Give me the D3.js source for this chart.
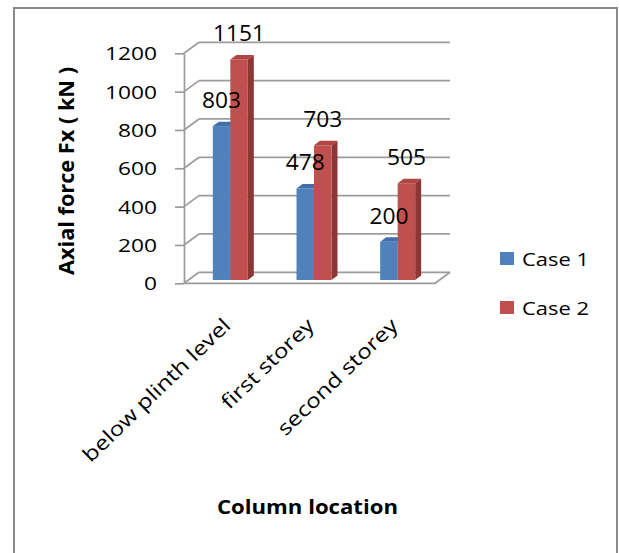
<!DOCTYPE html>
<html>
<head>
<meta charset="utf-8">
<script src="https://cdn.jsdelivr.net/npm/d3@7/dist/d3.min.js"></script>
<style>
  html, body { margin: 0; padding: 0; background: #fff; }
  svg { display: block; font-family: "Open Sans", "Liberation Sans", Arial, sans-serif; }
</style>
</head>
<body>
<svg id="chart" width="619" height="553"></svg>
<script>
// Axial force per column location, two load cases
const categories = ["below plinth level", "first storey", "second storey"];
const seriesNames = ["Case 1", "Case 2"];
const case1 = [803, 478, 200];
const case2 = [1151, 703, 505];
const yTickValues = [0, 200, 400, 600, 800, 1000, 1200];
const seriesColors = [
  { front: "#4F81BD", top: "#416fa8", side: "#3a6596" },
  { front: "#C0504D", top: "#b04643", side: "#8c3735" }
];
const fontFamily = "Open Sans, Liberation Sans, Arial, sans-serif";

const svg = d3.select("#chart");

// Frame around the whole chart
svg.append("rect")
  .attr("x", 14).attr("y", 8).attr("width", 603).attr("height", 560)
  .attr("fill", "none").attr("stroke", "#8a8a8a").attr("stroke-width", 2);

// Front plane scales; the back wall sits at a fixed depth offset
const x0 = d3.scaleBand().domain(categories).range([184, 435]);
const y = d3.scaleLinear().domain([0, 1200]).range([283.3, 53.3]);
const depth = { dx: 15, dy: -11 };
const barDepth = { from: 0.3, to: 0.7 };
const pairW = 35;
const x1 = d3.scaleBand().domain(seriesNames)
  .range([x0.bandwidth() / 2 - pairW / 2, x0.bandwidth() / 2 + pairW / 2]);

const gridColor = "#9c9c9c";
const xL = x0.range()[0], xR = x0.range()[1];

// Back wall gridlines and the diagonal links from the front axis
const grid = svg.append("g").attr("stroke", gridColor).attr("stroke-width", 1.7).attr("fill", "none");
yTickValues.forEach(v => {
  grid.append("line")
    .attr("x1", xL + depth.dx).attr("y1", y(v) + depth.dy)
    .attr("x2", xR + depth.dx).attr("y2", y(v) + depth.dy);
  grid.append("line")
    .attr("x1", xL).attr("y1", y(v))
    .attr("x2", xL + depth.dx).attr("y2", y(v) + depth.dy);
});
// Floor outline
grid.append("path")
  .attr("d", `M${xL},${y(0)}L${xR},${y(0)}L${xR + depth.dx},${y(0) + depth.dy}`);

// Y axis on the front plane
const yAxis = d3.axisLeft(y).tickValues(yTickValues).tickFormat(d3.format("d"))
  .tickSize(9).tickSizeOuter(0).tickPadding(18);
const yg = svg.append("g").attr("transform", `translate(${xL},0)`).call(yAxis);
yg.select(".domain").attr("stroke", gridColor).attr("stroke-width", 1.7);
yg.selectAll(".tick line").attr("stroke", gridColor).attr("stroke-width", 1.7);
yg.selectAll(".tick text")
  .attr("fill", "#000")
  .attr("font-size", 17.5)
  .attr("font-family", fontFamily)
  .attr("dy", "0.38em")
  .attr("textLength", d => String(d).length * 13)
  .attr("lengthAdjust", "spacingAndGlyphs");

// 3D columns
const fdx = depth.dx * barDepth.from, fdy = depth.dy * barDepth.from;
const sdx = depth.dx * (barDepth.to - barDepth.from), sdy = depth.dy * (barDepth.to - barDepth.from);
const seriesValues = [case1, case2];
const bars = [];
categories.forEach((c, i) => {
  seriesNames.forEach((s, j) => {
    const v = seriesValues[j][i];
    const xa = x0(c) + x1(s) + fdx;
    const xb = xa + x1.bandwidth();
    const yt = y(v) + fdy;
    const yb = y(0) + fdy;
    bars.push({ xa, xb, yt, yb, v, col: seriesColors[j] });
  });
});
const barG = svg.append("g");
bars.forEach(b => {
  const g = barG.append("g");
  // right side
  g.append("path")
    .attr("d", `M${b.xb},${b.yt}L${b.xb + sdx},${b.yt + sdy}L${b.xb + sdx},${b.yb + sdy}L${b.xb},${b.yb}Z`)
    .attr("fill", b.col.side);
  // top
  g.append("path")
    .attr("d", `M${b.xa},${b.yt}L${b.xb},${b.yt}L${b.xb + sdx},${b.yt + sdy}L${b.xa + sdx},${b.yt + sdy}Z`)
    .attr("fill", b.col.top);
  // front
  g.append("rect")
    .attr("x", b.xa).attr("y", b.yt)
    .attr("width", b.xb - b.xa).attr("height", b.yb - b.yt)
    .attr("fill", b.col.front);
});

// Value labels above each column
bars.forEach(b => {
  const t = String(b.v);
  svg.append("text")
    .attr("x", (b.xa + b.xb) / 2)
    .attr("y", b.yt - 26)
    .attr("dy", "0.36em")
    .attr("text-anchor", "middle")
    .attr("font-size", 22)
    .attr("fill", "#000")
    .attr("textLength", t.length * 13)
    .attr("lengthAdjust", "spacingAndGlyphs")
    .text(t);
});

// Category labels, slanted
const catLengths = [196, 120, 158];
categories.forEach((c, i) => {
  const ax = x0(c) + x0.bandwidth() / 2 + 6;
  const ay = 327;
  svg.append("text")
    .attr("transform", `translate(${ax},${ay}) rotate(-44)`)
    .attr("text-anchor", "end")
    .attr("font-size", 20)
    .attr("fill", "#000")
    .attr("textLength", catLengths[i])
    .attr("lengthAdjust", "spacingAndGlyphs")
    .text(c);
});

// Axis titles
svg.append("text")
  .attr("transform", "translate(74,171) rotate(-90)")
  .attr("text-anchor", "middle")
  .attr("font-size", 22)
  .attr("font-weight", "bold")
  .attr("fill", "#000")
  .attr("textLength", 208)
  .attr("lengthAdjust", "spacingAndGlyphs")
  .text("Axial force Fx ( kN )");

svg.append("text")
  .attr("x", 307.5).attr("y", 514)
  .attr("text-anchor", "middle")
  .attr("font-size", 19.5)
  .attr("font-weight", "bold")
  .attr("fill", "#000")
  .attr("textLength", 181)
  .attr("lengthAdjust", "spacingAndGlyphs")
  .text("Column location");

// Legend
const legend = svg.append("g");
seriesNames.forEach((s, j) => {
  const ly = 252 + j * 49;
  legend.append("rect")
    .attr("x", 500).attr("y", ly).attr("width", 14).attr("height", 13)
    .attr("fill", seriesColors[j].front);
  legend.append("text")
    .attr("x", 522).attr("y", ly + 14)
    .attr("font-size", 18)
    .attr("fill", "#000")
    .attr("textLength", 67)
    .attr("lengthAdjust", "spacingAndGlyphs")
    .text(s);
});
</script>
</body>
</html>
